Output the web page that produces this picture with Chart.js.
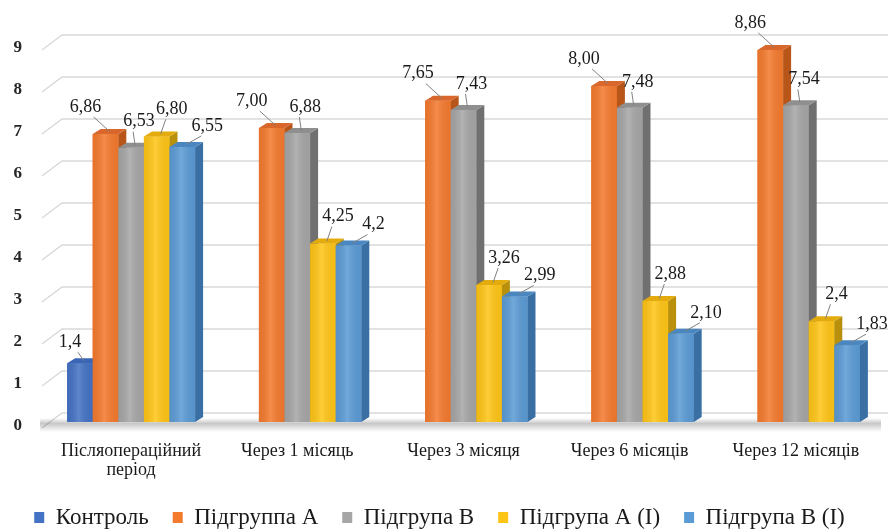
<!DOCTYPE html>
<html>
<head>
<meta charset="utf-8">
<script src="https://cdn.jsdelivr.net/npm/chart.js@4.4.1/dist/chart.umd.min.js"></script>
<style>
  html,body{margin:0;padding:0;background:#fff}
  #wrap{width:888px;height:529px;position:relative}
</style>
</head>
<body>
<div id="wrap"><canvas id="c"></canvas></div>
<script>
// categories and values
const categories = [['Післяопераційний','період'], 'Через 1 місяць', 'Через 3 місяця', 'Через 6 місяців', 'Через 12 місяців'];
const seriesNames = ['Контроль', 'Підгруппа А', 'Підгрупа В', 'Підгрупа А (І)', 'Підгрупа В (І)'];
const control = [1.4, null, null, null, null];
const groupA  = [6.86, 7.00, 7.65, 8.00, 8.86];
const groupB  = [6.53, 6.88, 7.43, 7.48, 7.54];
const groupAI = [6.80, 4.25, 3.26, 2.88, 2.4];
const groupBI = [6.55, 4.2, 2.99, 2.10, 1.83];
// decimals printed on each label
const decControl = [1, 0, 0, 0, 0];
const decA  = [2, 2, 2, 2, 2];
const decB  = [2, 2, 2, 2, 2];
const decAI = [2, 2, 2, 2, 1];
const decBI = [2, 1, 2, 2, 2];
const yTicks = [0, 1, 2, 3, 4, 5, 6, 7, 8, 9];

// styling
const FONT = '"Liberation Serif", "Times New Roman", serif';
const fronts = ['#4472c4', '#f47a2e', '#a6a6a6', '#ffc516', '#5b9bd5'];
const sides  = ['#2f5597', '#b8561a', '#707070', '#b8900b', '#3a6fa3'];
const tops   = ['#3b66b5', '#d9662a', '#8f8f8f', '#e3ab0e', '#4a86c0'];
const labelOff = [[-10,-21], [-20,-27], [8,-26], [15,-27], [25,-21]];
const DX = 8, DY = -5;

const allValues = [control, groupA, groupB, groupAI, groupBI];
const allDecs = [decControl, decA, decB, decAI, decBI];

function face(ctx, pts, color){
  ctx.beginPath();
  ctx.moveTo(pts[0][0], pts[0][1]);
  for (let i = 1; i < pts.length; i++) ctx.lineTo(pts[i][0], pts[i][1]);
  ctx.closePath();
  ctx.fillStyle = color;
  ctx.fill();
}

const bar3d = {
  id: 'bar3d',
  beforeDatasetsDraw(chart){
    const {ctx, chartArea:{left, right, bottom}, scales:{y}} = chart;
    ctx.save();
    // back wall gridlines
    ctx.strokeStyle = '#d9d9d9';
    ctx.lineWidth = 1.5;
    yTicks.forEach(v => {
      const py = y.getPixelForValue(v);
      ctx.beginPath();
      ctx.moveTo(left - 6, py + 6);
      ctx.lineTo(left + 14, py - 9);
      ctx.lineTo(888, py - 9);
      ctx.stroke();
    });
    // floor shadow
    const g = ctx.createLinearGradient(0, bottom - 4, 0, bottom + 10);
    g.addColorStop(0, 'rgba(0,0,0,0)');
    g.addColorStop(0.4, 'rgba(0,0,0,0.22)');
    g.addColorStop(1, 'rgba(0,0,0,0)');
    ctx.fillStyle = g;
    ctx.fillRect(left - 8, bottom - 4, right - left + 10, 14);
    ctx.restore();
  },
  afterDatasetsDraw(chart){
    const {ctx} = chart;
    const metas = chart.data.datasets.map((d, i) => chart.getDatasetMeta(i));
    ctx.save();
    categories.forEach((c, j) => {
      metas.forEach((meta, i) => {
        const v = allValues[i][j];
        if (v === null) return;
        const el = meta.data[j];
        el.draw(ctx);
        const {x, y, base, width} = el.getProps(['x','y','base','width'], true);
        const l = x - width/2, r = x + width/2;
        // soft shading on the front
        const sh = ctx.createLinearGradient(l, 0, r, 0);
        sh.addColorStop(0, 'rgba(0,0,0,0.06)');
        sh.addColorStop(0.45, 'rgba(255,255,255,0.14)');
        sh.addColorStop(1, 'rgba(0,0,0,0.04)');
        ctx.fillStyle = sh;
        ctx.fillRect(l, y, width, base - y);
        face(ctx, [[r, y], [r + DX, y + DY], [r + DX, base + DY], [r, base]], sides[i]);
        face(ctx, [[l, y], [l + DX, y + DY], [r + DX, y + DY], [r, y]], tops[i]);
      });
    });
    // value labels with leader lines
    ctx.font = '18px ' + FONT;
    ctx.textAlign = 'center';
    ctx.textBaseline = 'middle';
    metas.forEach((meta, i) => {
      meta.data.forEach((el, j) => {
        const v = allValues[i][j];
        if (v === null) return;
        const {x, y} = el.getProps(['x','y'], true);
        const lx = x + labelOff[i][0], ly = y + labelOff[i][1];
        const ax = x + DX/2, ay = y + DY/2;
        const bx = lx + (labelOff[i][0] < 0 ? 8 : -6), by = ly + 10;
        ctx.strokeStyle = '#808080';
        ctx.lineWidth = 1;
        ctx.beginPath();
        ctx.moveTo(ax, ay);
        ctx.lineTo(bx, by);
        ctx.stroke();
        ctx.fillStyle = '#1a1a1a';
        ctx.fillText(v.toFixed(allDecs[i][j]).replace('.', ','), lx, ly);
      });
    });
    ctx.restore();
  }
};

new Chart(document.getElementById('c'), {
  type: 'bar',
  data: {
    labels: categories,
    datasets: seriesNames.map((name, i) => ({
      label: name,
      data: allValues[i],
      backgroundColor: fronts[i],
      borderWidth: 0,
      categoryPercentage: 0.77,
      barPercentage: 1.0
    }))
  },
  options: {
    responsive: true,
    maintainAspectRatio: false,
    animation: false,
    layout: {padding: {left: 0, right: 9, top: 44, bottom: 0}},
    plugins: {
      legend: {
        position: 'bottom',
        maxHeight: 47,
        labels: {
          boxWidth: 10, boxHeight: 11, padding: 24,
          color: '#1a1a1a',
          font: {family: FONT, size: 23}
        }
      },
      tooltip: {enabled: false}
    },
    scales: {
      x: {
        grid: {display: false, drawTicks: false},
        border: {display: false},
        afterFit(s){ s.height = 60; },
        ticks: {
          color: '#1a1a1a', padding: 19, maxRotation: 0, autoSkip: false,
          font: {family: FONT, size: 18, lineHeight: 1.1}
        }
      },
      y: {
        min: 0, max: 9,
        grid: {display: false, drawTicks: false},
        border: {display: false},
        afterFit(s){ s.width = 48; },
        ticks: {
          stepSize: 1, padding: 26, labelOffset: 4,
          color: '#262626',
          font: {family: FONT, size: 17, weight: 'bold'}
        }
      }
    }
  },
  plugins: [bar3d]
});
</script>
</body>
</html>
